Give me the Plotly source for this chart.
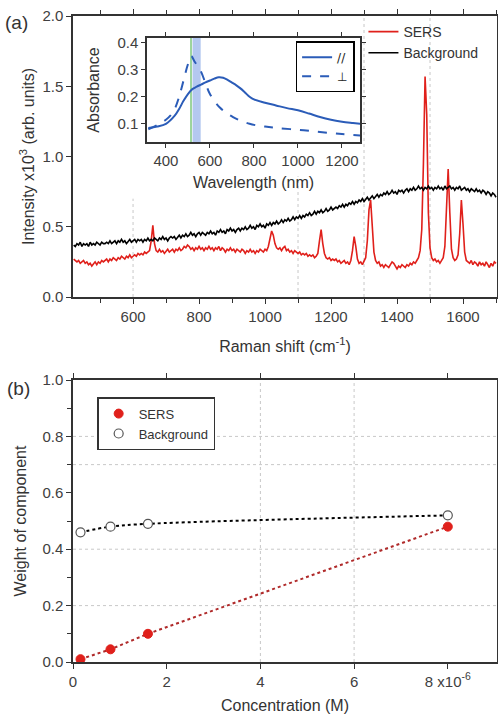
import plotly.graph_objects as go

# ---------------- data: panel (a) Raman spectra ----------------
raman_shift = list(range(420, 1701, 5))
sers_intensity = [
    0.27,0.26,0.25,0.26,0.24,0.25,0.26,0.24,0.25,0.23,0.24,0.22,0.24,0.25,0.23,0.25,0.24,0.26,0.25,0.26,
    0.27,0.25,0.27,0.26,0.28,0.27,0.26,0.28,0.27,0.29,0.28,0.27,0.29,0.28,0.30,0.28,0.29,0.30,0.29,0.31,
    0.30,0.31,0.30,0.32,0.31,0.32,0.33,0.40,0.51,0.38,0.33,0.32,0.34,0.32,0.33,0.31,0.33,0.34,0.32,0.33,
    0.34,0.32,0.34,0.33,0.35,0.33,0.34,0.36,0.35,0.37,0.36,0.34,0.35,0.33,0.35,0.34,0.36,0.34,0.35,0.33,
    0.35,0.34,0.36,0.34,0.35,0.33,0.35,0.34,0.36,0.33,0.35,0.34,0.32,0.34,0.33,0.35,0.33,0.34,0.32,0.34,
    0.33,0.32,0.34,0.33,0.31,0.33,0.32,0.34,0.32,0.33,0.31,0.33,0.32,0.34,0.33,0.32,0.34,0.33,0.36,0.41,
    0.47,0.44,0.38,0.35,0.34,0.35,0.33,0.35,0.36,0.33,0.34,0.32,0.33,0.31,0.33,0.32,0.31,0.32,0.30,0.31,
    0.30,0.31,0.29,0.30,0.29,0.30,0.28,0.29,0.31,0.40,0.48,0.38,0.31,0.28,0.27,0.28,0.26,0.27,0.26,0.27,
    0.25,0.26,0.24,0.25,0.26,0.24,0.25,0.23,0.26,0.33,0.43,0.36,0.27,0.24,0.25,0.23,0.25,0.28,0.40,0.62,
    0.69,0.50,0.32,0.26,0.24,0.25,0.22,0.23,0.21,0.23,0.22,0.21,0.23,0.25,0.24,0.22,0.20,0.22,0.21,0.23,
    0.22,0.21,0.23,0.22,0.24,0.23,0.25,0.24,0.26,0.28,0.33,0.48,0.95,1.57,1.30,0.60,0.35,0.28,0.26,0.27,
    0.25,0.26,0.24,0.26,0.28,0.36,0.62,0.91,0.60,0.34,0.28,0.26,0.27,0.30,0.45,0.69,0.52,0.32,0.26,0.25,
    0.24,0.26,0.23,0.25,0.24,0.22,0.25,0.23,0.24,0.22,0.25,0.23,0.21,0.24,0.22,0.25,0.24,
]
background_intensity = [
    0.37,0.36,0.38,0.37,0.39,0.36,0.38,0.37,0.38,0.36,0.39,0.37,0.38,0.37,0.39,0.38,0.37,0.39,0.38,0.38,
    0.39,0.38,0.40,0.38,0.39,0.40,0.38,0.40,0.39,0.41,0.39,0.40,0.38,0.40,0.41,0.39,0.40,0.41,0.39,0.41,
    0.40,0.41,0.39,0.41,0.40,0.42,0.40,0.41,0.40,0.42,0.41,0.40,0.42,0.41,0.43,0.41,0.42,0.40,0.42,0.43,
    0.42,0.43,0.41,0.43,0.44,0.42,0.44,0.43,0.45,0.43,0.44,0.46,0.44,0.45,0.43,0.45,0.46,0.44,0.46,0.45,
    0.44,0.46,0.45,0.47,0.45,0.46,0.44,0.47,0.46,0.48,0.46,0.47,0.45,0.48,0.47,0.49,0.47,0.48,0.46,0.48,
    0.49,0.47,0.49,0.48,0.50,0.48,0.49,0.51,0.49,0.50,0.48,0.51,0.50,0.52,0.50,0.51,0.49,0.52,0.51,0.53,
    0.51,0.53,0.52,0.54,0.52,0.53,0.55,0.53,0.55,0.54,0.56,0.54,0.55,0.57,0.55,0.57,0.56,0.58,0.56,0.58,
    0.57,0.59,0.58,0.60,0.58,0.59,0.61,0.59,0.61,0.60,0.62,0.60,0.61,0.63,0.61,0.62,0.64,0.62,0.63,0.64,
    0.63,0.65,0.64,0.66,0.64,0.66,0.65,0.67,0.66,0.68,0.66,0.68,0.67,0.69,0.68,0.70,0.68,0.70,0.71,0.69,
    0.71,0.72,0.70,0.72,0.73,0.71,0.73,0.72,0.74,0.73,0.75,0.73,0.74,0.76,0.74,0.75,0.73,0.76,0.75,0.76,
    0.74,0.76,0.77,0.75,0.77,0.76,0.78,0.76,0.77,0.79,0.77,0.78,0.76,0.78,0.77,0.79,0.77,0.78,0.76,0.78,
    0.77,0.79,0.77,0.78,0.76,0.79,0.77,0.78,0.79,0.77,0.78,0.76,0.78,0.77,0.79,0.76,0.77,0.78,0.76,0.77,
    0.75,0.77,0.76,0.75,0.77,0.75,0.76,0.74,0.76,0.75,0.73,0.75,0.74,0.72,0.74,0.73,0.71,
]

# ---------------- data: inset absorbance ----------------
wl_parallel = [320, 360, 400, 440, 460, 480, 500, 520, 540, 560, 580, 600, 620, 640, 660, 680, 700,
               720, 740, 760, 780, 800, 850, 900, 950, 1000, 1050, 1100, 1150, 1200, 1250, 1282]
abs_parallel = [0.085, 0.09, 0.10, 0.13, 0.155, 0.185, 0.21, 0.228, 0.237, 0.245, 0.253, 0.26, 0.267,
                0.272, 0.27, 0.262, 0.252, 0.242, 0.23, 0.215, 0.20, 0.19, 0.178, 0.168, 0.158, 0.15,
                0.138, 0.125, 0.115, 0.108, 0.103, 0.10]
wl_perp = [320, 360, 400, 420, 440, 460, 480, 500, 515, 530, 555, 580, 600, 645, 705, 780, 850, 900,
           1000, 1100, 1200, 1282]
abs_perp = [0.08, 0.095, 0.115, 0.13, 0.155, 0.20, 0.26, 0.32, 0.35, 0.33, 0.30, 0.25, 0.21, 0.16,
            0.125, 0.10, 0.09, 0.085, 0.078, 0.07, 0.062, 0.057]
laser_wl = 514
band_wl = [521, 558]
inset_abs_range = [0.033, 0.417]

# ---------------- data: panel (b) ----------------
concentration = [0.16, 0.8, 1.6, 8.0]
weight_sers = [0.01, 0.045, 0.10, 0.48]
weight_background = [0.46, 0.48, 0.49, 0.52]

# grid lines (position, upper end in data units)
grid_a_x = [(600, 0.7), (1100, 0.86), (1300, 2.0), (1500, 2.0)]
grid_b_x = [4, 6]
grid_b_y = [0.2, 0.4, 0.7, 0.8]

FONT = "Arial, Liberation Sans, sans-serif"
TICKC = "#404040"
AXC = "#333333"
TXT = "#333333"
RED = "#e0201b"
BLUE = "#2b5cb8"

fig = go.Figure()

# panel (a)
fig.add_trace(go.Scatter(x=raman_shift, y=sers_intensity, mode="lines", name="SERS",
                         line=dict(color=RED, width=1.6), xaxis="x", yaxis="y", legend="legend"))
fig.add_trace(go.Scatter(x=raman_shift, y=background_intensity, mode="lines", name="Background",
                         line=dict(color="black", width=1.6), xaxis="x", yaxis="y", legend="legend"))

# inset: excitation band and laser line, then absorbance curves
fig.add_trace(go.Scatter(x=[band_wl[0], band_wl[1], band_wl[1], band_wl[0]],
                         y=[inset_abs_range[0], inset_abs_range[0], inset_abs_range[1], inset_abs_range[1]],
                         mode="lines", fill="toself", fillcolor="#b4c8f0", line=dict(width=0),
                         showlegend=False, hoverinfo="skip", xaxis="x3", yaxis="y3"))
fig.add_trace(go.Scatter(x=[laser_wl, laser_wl], y=inset_abs_range, mode="lines",
                         line=dict(color="#5cb85c", width=1.2), showlegend=False, hoverinfo="skip",
                         xaxis="x3", yaxis="y3"))
fig.add_trace(go.Scatter(x=wl_parallel, y=abs_parallel, mode="lines", name="//", line_shape="spline",
                         line=dict(color=BLUE, width=2), xaxis="x3", yaxis="y3", legend="legend2"))
fig.add_trace(go.Scatter(x=wl_perp, y=abs_perp, mode="lines", name="\u22a5", line_shape="spline",
                         line=dict(color=BLUE, width=2, dash="dash"), xaxis="x3", yaxis="y3",
                         legend="legend2"))

# panel (b)
fig.add_trace(go.Scatter(x=concentration, y=weight_background, mode="lines", showlegend=False,
                         line_shape="spline", line=dict(color="black", width=2, dash="dot"),
                         xaxis="x2", yaxis="y2"))
fig.add_trace(go.Scatter(x=concentration, y=weight_sers, mode="lines", showlegend=False,
                         line=dict(color="#b02a2a", width=2, dash="dot"), xaxis="x2", yaxis="y2"))
fig.add_trace(go.Scatter(x=concentration, y=weight_sers, mode="markers", name="SERS",
                         marker=dict(color=RED, size=9, line=dict(color=RED, width=1)),
                         xaxis="x2", yaxis="y2", legend="legend3"))
fig.add_trace(go.Scatter(x=concentration, y=weight_background, mode="markers", name="Background",
                         marker=dict(color="white", size=9, line=dict(color="#555555", width=1.2)),
                         xaxis="x2", yaxis="y2", legend="legend3"))

GRID = dict(color="#c8c8c8", width=1, dash="dot")
shapes = []
for gx, top in grid_a_x:
    shapes.append(dict(type="line", xref="x", yref="y", x0=gx, x1=gx, y0=0, y1=top,
                       line=GRID, layer="below"))
for gx in grid_b_x:
    shapes.append(dict(type="line", xref="x2", yref="y2 domain", x0=gx, x1=gx, y0=0, y1=1,
                       line=GRID, layer="below"))
for gy in grid_b_y:
    shapes.append(dict(type="line", xref="x2 domain", yref="y2", x0=0, x1=1, y0=gy, y1=gy,
                       line=GRID, layer="below"))

axis_common = dict(showgrid=False, zeroline=False, showline=True, linecolor=AXC, linewidth=1.5,
                   ticks="outside", tickcolor=AXC, ticklen=5, mirror="ticks", automargin=False,
                   tickfont=dict(size=15, color=TICKC, family=FONT))

fig.update_layout(
    width=498, height=716,
    margin=dict(l=73, r=1, t=16, b=54, autoexpand=False),
    paper_bgcolor="white", plot_bgcolor="white",
    font=dict(family=FONT, color=TXT),
    shapes=shapes,
    xaxis=dict(axis_common, domain=[0, 1], anchor="y", range=[418, 1703],
               tickvals=[600, 800, 1000, 1200, 1400, 1600],
               minor=dict(dtick=100, tick0=0, ticks="outside", ticklen=4, tickcolor=AXC),
               title=dict(text="Raman shift (cm<sup>-1</sup>)", font=dict(size=16, color=TXT), standoff=17)),
    yaxis=dict(axis_common, domain=[0.565, 1], anchor="x", range=[0, 2.0], tickvals=[0, 0.5, 1.0, 1.5, 2.0],
               tickformat=".1f",
               title=dict(text="Intensity x10<sup>3</sup> (arb. units)", font=dict(size=16, color=TXT), standoff=4)),
    xaxis2=dict(axis_common, domain=[0, 1], anchor="y2", range=[0, 9.05], tickvals=[0, 2, 4, 6, 8],
                ticktext=["0", "2", "4", "6", "8 x10<sup>-6</sup>"],
                title=dict(text="Concentration (M)", font=dict(size=16, color=TXT), standoff=11)),
    yaxis2=dict(axis_common, domain=[0, 0.4365], anchor="x2", range=[0, 1.0],
                tickvals=[0, 0.2, 0.4, 0.6, 0.8, 1.0], tickformat=".1f",
                minor=dict(dtick=0.1, ticks="outside", ticklen=4, tickcolor=AXC),
                title=dict(text="Weight of component", font=dict(size=16, color=TXT), standoff=12)),
    xaxis3=dict(axis_common, domain=[0.1745, 0.677], anchor="y3", range=[314, 1282],
                tickvals=[400, 600, 800, 1000, 1200], ticklen=4,
                title=dict(text="Wavelength (nm)", font=dict(size=16, color=TXT), standoff=9)),
    yaxis3=dict(axis_common, domain=[0.805, 0.966], anchor="x3", range=inset_abs_range,
                tickvals=[0.1, 0.2, 0.3, 0.4], ticklen=4,
                title=dict(text="Absorbance", font=dict(size=16, color=TXT), standoff=14)),
    legend=dict(x=0.685, y=1.0, xanchor="left", yanchor="top", bgcolor="rgba(0,0,0,0)",
                font=dict(size=14, color=TXT), tracegroupgap=0, itemwidth=30),
    legend2=dict(x=0.525, y=0.961, xanchor="left", yanchor="top", bgcolor="white",
                 bordercolor="black", borderwidth=1.5,
                 font=dict(size=12, color="#222222", family="DejaVu Sans, Arial, sans-serif"),
                 itemwidth=30, tracegroupgap=0),
    legend3=dict(x=0.057, y=0.41, xanchor="left", yanchor="top", bgcolor="white",
                 bordercolor=AXC, borderwidth=1.5, font=dict(size=13, color=TXT),
                 tracegroupgap=0),
    annotations=[
        dict(text="(a)", xref="paper", yref="paper", x=-0.165, y=0.99, showarrow=False,
             font=dict(size=19, color=TXT), xanchor="left", yanchor="middle"),
        dict(text="(b)", xref="paper", yref="paper", x=-0.16, y=0.424, showarrow=False,
             font=dict(size=19, color=TXT), xanchor="left", yanchor="middle"),
    ],
)

fig.write_html("out.html", config={"displayModeBar": False},
               post_script="document.body.style.margin='0';")
